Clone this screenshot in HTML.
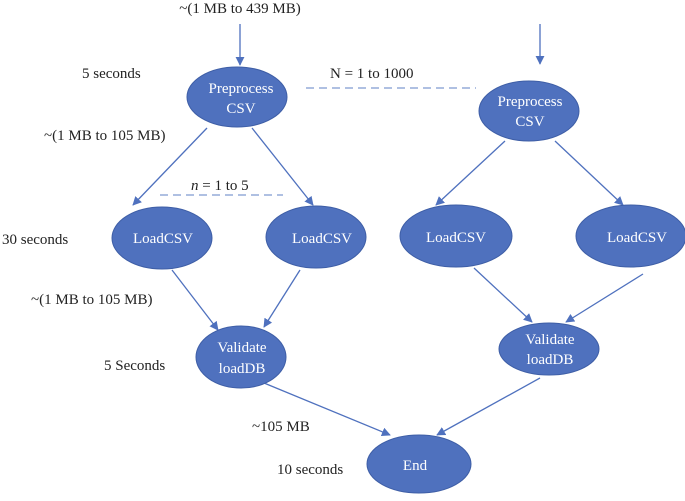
<!DOCTYPE html>
<html><head><style>
body{margin:0;background:#fff;}
svg text{font-family:"Liberation Serif",serif;font-size:15px;}
</style></head><body>
<svg width="685" height="496" viewBox="0 0 685 496" xmlns="http://www.w3.org/2000/svg">
<defs><marker id="a" viewBox="0 0 10 10" refX="9" refY="5" markerWidth="9" markerHeight="9" orient="auto" markerUnits="userSpaceOnUse"><path d="M0,0 L10,5 L0,10 z" fill="#4f71be"/></marker></defs>
<g stroke="#4f71be" stroke-width="1.3" fill="none" marker-end="url(#a)">
<line x1="240" y1="24" x2="240" y2="65"/>
<line x1="540" y1="24" x2="540" y2="64"/>
<line x1="207" y1="128" x2="133" y2="205"/>
<line x1="252" y1="128" x2="313" y2="205"/>
<line x1="505" y1="141" x2="436" y2="205"/>
<line x1="555" y1="141" x2="623" y2="205"/>
<line x1="172" y1="270" x2="218" y2="330"/>
<line x1="300" y1="270" x2="264" y2="327"/>
<line x1="474" y1="268" x2="532" y2="322"/>
<line x1="643" y1="274" x2="566" y2="322"/>
<line x1="264" y1="383" x2="390" y2="435"/>
<line x1="540" y1="378" x2="437" y2="435"/>
</g>
<g stroke="#7f9bd0" stroke-width="1.3" stroke-dasharray="8,5">
<line x1="306" y1="88" x2="476" y2="88"/>
<line x1="160" y1="195" x2="283" y2="195"/>
</g>
<g fill="#4f71be" stroke="#3e5ea6" stroke-width="1">
<ellipse cx="237" cy="97" rx="50" ry="30"/>
<ellipse cx="529" cy="111" rx="50" ry="30"/>
<ellipse cx="162" cy="238" rx="50" ry="31"/>
<ellipse cx="316" cy="237" rx="50" ry="31"/>
<ellipse cx="456" cy="236" rx="56" ry="31"/>
<ellipse cx="631" cy="236" rx="55" ry="31"/>
<ellipse cx="241" cy="357" rx="45" ry="31"/>
<ellipse cx="549" cy="349" rx="50" ry="26"/>
<ellipse cx="419" cy="464" rx="52" ry="29"/>
</g>
<g fill="#fff" text-anchor="middle">
<text x="241" y="93">Preprocess</text><text x="241" y="113">CSV</text>
<text x="530" y="106">Preprocess</text><text x="530" y="126">CSV</text>
<text x="163" y="243">LoadCSV</text>
<text x="322" y="243">LoadCSV</text>
<text x="456" y="242">LoadCSV</text>
<text x="637" y="242">LoadCSV</text>
<text x="242" y="352">Validate</text><text x="242" y="373">loadDB</text>
<text x="550" y="344">Validate</text><text x="550" y="364">loadDB</text>
<text x="415" y="470">End</text>
</g>
<g fill="#222">
<text x="240" y="13" text-anchor="middle">~(1 MB to 439 MB)</text>
<text x="82" y="78">5 seconds</text>
<text x="330" y="78">N = 1 to 1000</text>
<text x="44" y="140">~(1 MB to 105 MB)</text>
<text x="191" y="190"><tspan font-style="italic">n</tspan> = 1 to 5</text>
<text x="2" y="244">30 seconds</text>
<text x="31" y="304">~(1 MB to 105 MB)</text>
<text x="104" y="370">5 Seconds</text>
<text x="252" y="431">~105 MB</text>
<text x="277" y="474">10 seconds</text>
</g>
</svg>
</body></html>
